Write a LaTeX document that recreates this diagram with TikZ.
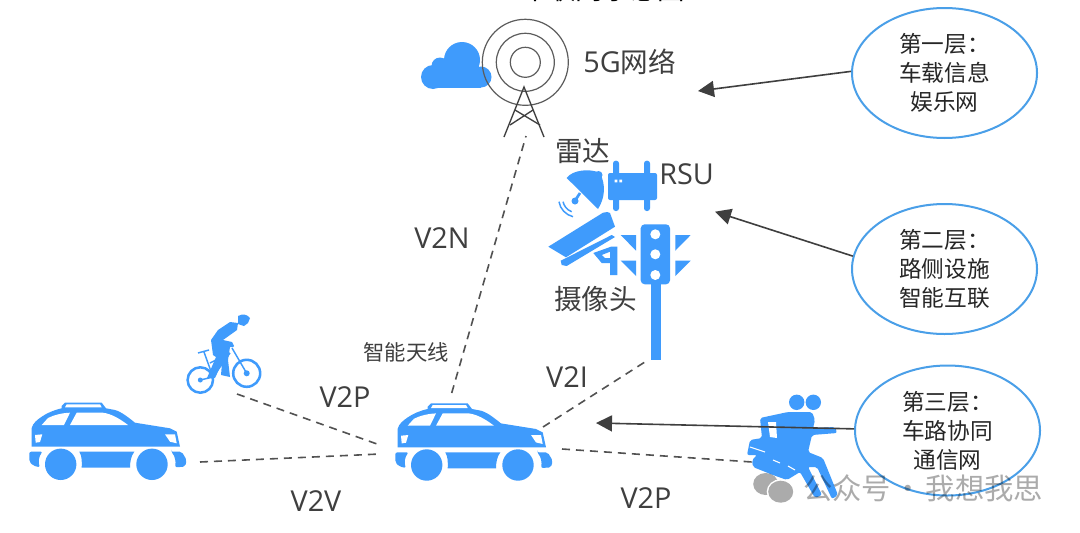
\documentclass[tikz,border=0pt]{standalone}
\usepackage{fontspec}
\setmainfont{Noto Sans CJK SC}
\newfontfamily\lat{Open Sans}
\usetikzlibrary{arrows.meta,shapes.geometric}
\definecolor{ib}{HTML}{3F9BFC}
\definecolor{tx}{HTML}{3F3F3F}
\definecolor{ell}{HTML}{4A9FE8}
\tikzset{x=0.75pt,y=-0.75pt,
 lbl/.style={text=tx,inner sep=0pt,font=\fontsize{20.7}{24}\selectfont},
 vlb/.style={text=tx,inner sep=0pt,font=\lat\fontsize{21.6}{24}\selectfont},
 lay/.style={ellipse,draw=ell,line width=1.5pt,minimum width=138.75pt,minimum height=97.5pt,inner sep=0pt,align=center,text=black!85,font=\fontsize{17}{21.75}\selectfont},
 dsh/.style={draw=tx!90,line width=1.2pt,dash pattern=on 6pt off 4.5pt},
 arr/.style={draw=tx,line width=1.2pt,-{Triangle[length=12pt,width=12pt]}},
 towerline/.style={draw=tx,line width=1pt}}
\newcommand{\carshape}[2]{%
\begin{scope}[shift={(#1,#2)}]
 \fill[ib] (31.7,446.7) -- (31.7,428) .. controls (33,423) and (37,420) .. (41.7,416.7) .. controls (47,413) and (54,410) .. (61.7,408.3) -- (61.7,406) -- (65,402.7) -- (101.7,402.7) -- (106,408.3) -- (115,410) .. controls (122,412) and (129,418) .. (135,422.7) -- (170,428.3) -- (176.7,431.7) -- (180,446.7) -- cycle;
 \fill[white] (41.7,425) -- (48,418) .. controls (54,415) and (62,413) .. (70,412.7) -- (64,425) -- cycle;
 \fill[white] (70,425) -- (76.7,412.7) -- (103,412.7) .. controls (112,414) and (120,419) .. (128,425) -- cycle;
 \fill[white] (65,407.3) -- (66.7,404.3) -- (100,404.3) -- (101.7,407.3) -- cycle;
 \fill[white] (35,435) -- (42.3,434.3) -- (40,442) -- (35.7,442.7) -- cycle;
 \fill[white] (165,434.3) -- (175,434.3) -- (176.7,443.3) -- (170,441.7) -- cycle;
 \fill[ib,rounded corners=1.5pt] (29.3,451.7) -- (42.7,451.7) .. controls (39,456) and (38,462) .. (40,467.3) -- (33.3,465.7) -- (29.3,461.7) -- cycle;
 \fill[ib] (79.3,451.7) -- (134.3,451.7) .. controls (131,456) and (130,462) .. (130,467.7) -- (81.7,467.7) .. controls (82,462) and (82,456) .. (79.3,451.7) -- cycle;
 \fill[ib,rounded corners=1.5pt] (171,451.7) -- (181.7,451.7) -- (186.7,460) -- (185,466.7) -- (175,467.3) .. controls (176,462) and (175,456) .. (171,451.7) -- cycle;
 \fill[ib] (60.7,464.3) circle (15.7);
 \fill[ib] (152,464.3) circle (15.7);
\end{scope}}
\begin{document}
\begin{tikzpicture}
\useasboundingbox (0,0) rectangle (1080,532);
\fill[white] (0,0) rectangle (1080,532);
% title, cut by the top edge as in the reference
\begin{scope}
\clip (0,0) rectangle (1080,532);
\node[text=black,inner sep=0pt,font=\fontsize{20.6}{24}\selectfont] (title) at (603,-11) {车联网示意图};
\end{scope}
% cloud
\fill[ib] (433,77) circle (12) (440,66) circle (8.5) (462,60) circle (18) (481,77) circle (10.5);
\fill[ib] (433,70) rectangle (481,87.7);
% antenna circles
\coordinate (ant) at (525.3,62.3);
\draw[tx!85,line width=0.9pt] (ant) circle (43) (ant) circle (29) (ant) circle (15);
\draw[towerline] (504,137) -- (524,87) -- (544,137);
\draw[towerline] (515,110) -- (540,125) (533,110) -- (510,125);
\coordinate (toweb) at (526,136);
\node[text=tx,inner sep=0pt,anchor=west,font=\fontsize{20.7}{24}\selectfont] (n5g) at (583,62) {{\lat\fontsize{21.6}{24}\selectfont 5G}网络};
\node[lbl,anchor=west] (radar) at (555,151) {雷达};
\node[vlb,anchor=west] (rsu) at (659,174) {RSU};
\node[lbl,anchor=west] (cam) at (554,299) {摄像头};
% RSU
\fill[ib,rounded corners=1.5pt] (608,173) rectangle (657,200);
\fill[ib,rounded corners=2pt] (613,160.7) rectangle (619,211);
\fill[ib,rounded corners=2pt] (644,160.7) rectangle (650,211);
\fill[white] (614.7,179.7) rectangle (617.3,182.3) (619.4,179.7) rectangle (622,182.3);
% dish
\fill[ib] (566.7,178) .. controls (572,170) and (590,168) .. (600,173) .. controls (606,185) and (605,198) .. (598,209) -- cycle;
\fill[ib] (598.5,175) circle (4);
\draw[ib,line width=2pt] (580,193) -- (575,200.7);
\fill[ib] (575,201) circle (3.5);
\draw[ib,line width=1.1pt] (559,201.7) .. controls (560,209) and (566,215) .. (573,216.7);
\draw[ib,line width=1.1pt] (563,201.7) .. controls (564,206) and (567,210) .. (571.7,211.7);
% camera
\fill[ib] (548.3,246.7) -- (603,212.7) .. controls (606,211.5) and (609,212) .. (610,213) -- (615,226.7) -- (566,257.3) -- cycle;
\fill[ib] (560.7,260.7) -- (611.7,235) -- (615,237) -- (566.7,266) -- (561.7,265) -- cycle;
\fill[ib,even odd rule] (593.3,253) -- (611,246.7) -- (617.3,246.7) -- (617.3,275) -- (610,275) -- (610,263) -- (601.7,263) -- cycle (601.7,255) -- (610,251.7) -- (610,258) -- (605,258) -- cycle;
% traffic light
\fill[ib,rounded corners=3pt] (640.7,224.3) rectangle (670,284.3);
\fill[ib] (650.7,282) rectangle (660.7,360);
\fill[white] (655.3,234.3) circle (5) (655.3,254.3) circle (5) (655.3,275) circle (5);
\fill[ib] (620.7,235) -- (636,235) -- (636,250.7) -- cycle;
\fill[ib] (620.7,260.7) -- (636,260.7) -- (636,276) -- cycle;
\fill[ib] (690.7,235) -- (675.3,235) -- (675.3,250.7) -- cycle;
\fill[ib] (690.7,260.7) -- (675.3,260.7) -- (675.3,276) -- cycle;
\coordinate (lightb) at (648,360);
% cars
\carshape{0}{0}
\carshape{366}{0.7}
\coordinate (carAleft) at (200,462);
\coordinate (carBl) at (380,454);
\coordinate (carBtop) at (451.7,393);
\coordinate (carBtr) at (543,427);
\coordinate (carBr) at (562,449);
% cyclist
\fill[ib] (238,316) .. controls (243,313) and (248,315) .. (250,318) -- (248,323) -- (244,326) -- (238,324) -- cycle;
\fill[ib] (238,323) -- (230,322) -- (218,330) -- (211,340) -- (213,355) -- (216,357) -- (207,378) -- (215,378) -- (222,363) -- (221,375) -- (230,377) -- (228,360) -- (230,347) -- (233,347) -- (234,346) -- (232,342) -- (223,340) -- (237,330) -- cycle;
\draw[ib,line width=1.1pt] (198,353) -- (209,350) (204,352) -- (213,377) -- (200.3,380) (210,363) -- (230,353) (213,377) -- (230,353) (232,348) -- (246.7,373.3);
\draw[ib,line width=1.9pt] (200.3,380) circle (12.7) (246.7,373.3) circle (13.5);
\fill[ib] (200.3,380) circle (2.5) (246.7,373.3) circle (3);
\coordinate (bikeb) at (237,394);
\coordinate (bikee) at (377,444);
% pedestrians
\fill[ib] (796.7,402.3) circle (7.7) (813.3,402.3) circle (7.7);
\fill[ib,rounded corners=1.5pt] (760,418) -- (788,412) -- (812,412) -- (815,420) -- (813,428) -- (835,427) -- (837,433) -- (812,435) -- (808,452) -- (823,458) -- (838,495) -- (832,499) -- (817,467) -- (808,467) -- (822,495) -- (815,498) -- (800,472) -- (787,480) -- (773,475) -- (753,467) -- (752,460) -- (757,455) -- (747,455) -- (750,440) -- (762,438) -- cycle;
\fill[white] (768,422) -- (776,422) -- (777,438) -- (770,437) -- cycle;
\draw[white,line width=0.8pt] (750,447) -- (765,452) (773,460) -- (780,463) (788,466) -- (795,470);
\coordinate (pede) at (752,462);
% ellipses
\node[lay] (l1) at (944.5,73) {第一层：\\车载信息\\娱乐网};
\node[lay] (l2) at (944.5,269) {第二层：\\路侧设施\\智能互联};
\node[lay] (l3) at (947.5,430.5) {第三层：\\车路协同\\通信网};
% arrow targets
\coordinate (t1) at (698,91);
\coordinate (t2) at (715,211.7);
\coordinate (t3) at (596,423);
\draw[arr] (l1.179) -- (t1);
\draw[arr] (l2.172) -- (t2);
\draw[arr] (l3.179) -- (t3);
% dashed
\draw[dsh] (carBtop) -- (toweb);
\draw[dsh] (carBtr) -- (lightb);
\draw[dsh] (carAleft) -- (carBl);
\draw[dsh] (bikeb) -- (bikee);
\draw[dsh] (carBr) -- (pede);
% labels
\node[vlb] (v2n) at (442,238) {V2N};
\node[vlb] (v2p) at (345,397) {V2P};
\node[vlb] (v2i) at (567,377) {V2I};
\node[vlb] (v2v) at (316,501) {V2V};
\node[vlb] (v2pb) at (646,498) {V2P};
\node[text=tx,inner sep=0pt,font=\fontsize{16}{18}\selectfont] (ant2) at (406,352) {智能天线};
% watermark
\fill[black,opacity=.33] (765.7,484) ellipse (12.5 and 11);
\fill[white] (780.7,491.7) ellipse (14 and 12.5);
\fill[black,opacity=.33] (780.7,491.7) ellipse (12.5 and 11);
\node[text=black,text opacity=.33,inner sep=0pt,font=\fontsize{22}{24}\selectfont,anchor=west] (wm) at (803,488) {公众号\makebox[26pt]{·}我想我思};
\end{tikzpicture}
\end{document}
